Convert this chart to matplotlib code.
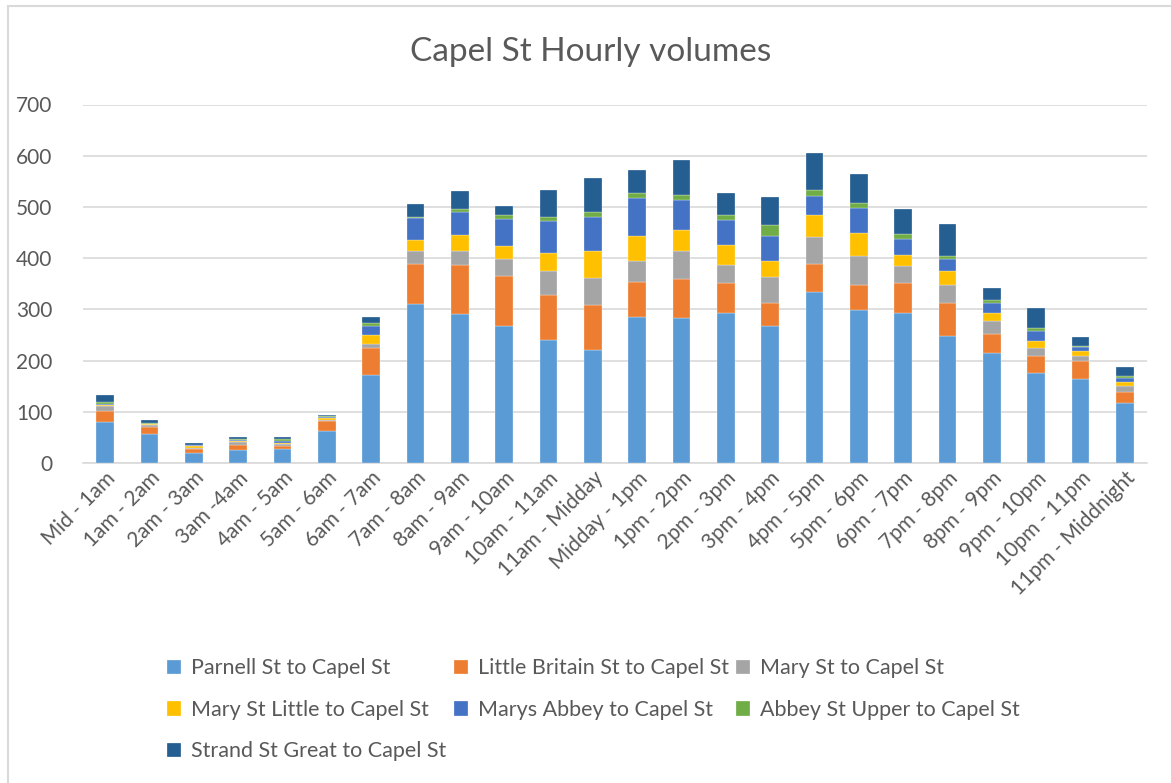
import numpy as np
import matplotlib.pyplot as plt
from matplotlib.patches import Rectangle

plt.rcParams['font.family'] = ['Lato', 'DejaVu Sans']

horas = ['Mid - 1am', '1am - 2am', '2am - 3am', '3am -4am', '4am - 5am', '5am - 6am',
         '6am - 7am', '7am - 8am', '8am - 9am', '9am - 10am', '10am - 11am', '11am - Midday',
         'Midday - 1pm', '1pm - 2pm', '2pm - 3pm', '3pm - 4pm', '4pm - 5pm', '5pm - 6pm',
         '6pm - 7pm', '7pm - 8pm', '8pm - 9pm', '9pm - 10pm', '10pm - 11pm', '11pm - Middnight']

parnell = [80, 57, 20, 25, 28, 63, 171, 311, 291, 268, 241, 221,
           286, 283, 292, 268, 333, 298, 292, 248, 215, 175, 164, 117]
little_britain = [22, 14, 8, 11, 6, 19, 53, 78, 95, 98, 88, 87,
                  67, 77, 60, 44, 55, 49, 59, 65, 37, 33, 35, 22]
mary = [9, 3, 2, 5, 3, 2, 8, 25, 27, 33, 46, 53,
        42, 53, 34, 51, 53, 58, 34, 35, 26, 17, 10, 12]
mary_little = [2, 2, 3, 2, 3, 4, 17, 22, 33, 25, 35, 53,
               49, 42, 39, 32, 44, 45, 21, 27, 14, 14, 10, 8]
marys_abbey = [3, 1, 2, 2, 3, 2, 19, 42, 45, 53, 62, 66,
               73, 58, 49, 49, 36, 47, 31, 24, 20, 18, 8, 6]
abbey_upper = [3, 1, 1, 2, 3, 1, 5, 3, 5, 8, 8, 11,
               11, 10, 11, 21, 12, 11, 10, 6, 6, 6, 2, 5]
strand = [13, 5, 4, 3, 4, 3, 12, 25, 36, 17, 53, 66,
          45, 68, 43, 55, 72, 57, 49, 62, 24, 40, 17, 17]

series = [
    ('Parnell St to Capel St', parnell, '#5b9bd5'),
    ('Little Britain St to Capel St', little_britain, '#ed7d31'),
    ('Mary St to Capel St', mary, '#a5a5a5'),
    ('Mary St Little to Capel St', mary_little, '#ffc000'),
    ('Marys Abbey to Capel St', marys_abbey, '#4472c4'),
    ('Abbey St Upper to Capel St', abbey_upper, '#70ad47'),
    ('Strand St Great to Capel St', strand, '#255e91'),
]

cinza = '#595959'

fig = plt.figure(figsize=(11.71, 7.83), dpi=100)
fig.patches.append(Rectangle((8 / 1171, -0.1), 1.2, 1.1 - 6 / 783,
                             transform=fig.transFigure, fill=False,
                             edgecolor='#d9d9d9', linewidth=1.5))
ax = fig.add_axes([83 / 1171, 1 - 463 / 783, (1147 - 83) / 1171, (463 - 104.5) / 783])

x = np.arange(len(horas))
base = np.zeros(len(horas))
barras = []
for nome, vals, cor in series:
    b = ax.bar(x, vals, 0.4, bottom=base, color=cor, label=nome,
               edgecolor='white', linewidth=0.2, zorder=3)
    barras.append(b)
    base += np.array(vals)

ax.set_ylim(0, 700)
ax.set_xlim(-0.5, len(horas) - 0.5)
ax.set_yticks(range(0, 701, 100))
ax.yaxis.grid(True, color='#d9d9d9', linewidth=1.2, zorder=0)
for s in ['top', 'right', 'left']:
    ax.spines[s].set_visible(False)
ax.spines['bottom'].set_color('#d9d9d9')
ax.spines['bottom'].set_linewidth(1.2)
ax.tick_params(axis='both', length=0, colors=cinza, labelsize=15)
ax.tick_params(axis='y', pad=22)
ax.set_xticks(x)
ax.set_xticklabels(horas, rotation=45, ha='right', rotation_mode='anchor')

fig.text(0.504, 0.934, 'Capel St Hourly volumes', ha='center', va='center',
         fontsize=24, color=cinza)

# legenda em ordem por linhas
ordem = [0, 3, 6, 1, 4, 2, 5]
fig.legend([barras[i] for i in ordem], [series[i][0] for i in ordem],
           loc='upper left', bbox_to_anchor=(148 / 1171, 1 - 639 / 783),
           ncol=3, frameon=False, fontsize=15.5, labelcolor=cinza,
           handlelength=0.65, handleheight=0.65, handletextpad=0.45,
           columnspacing=0.35, labelspacing=1.0)

fig.savefig('out.png', dpi=100)
